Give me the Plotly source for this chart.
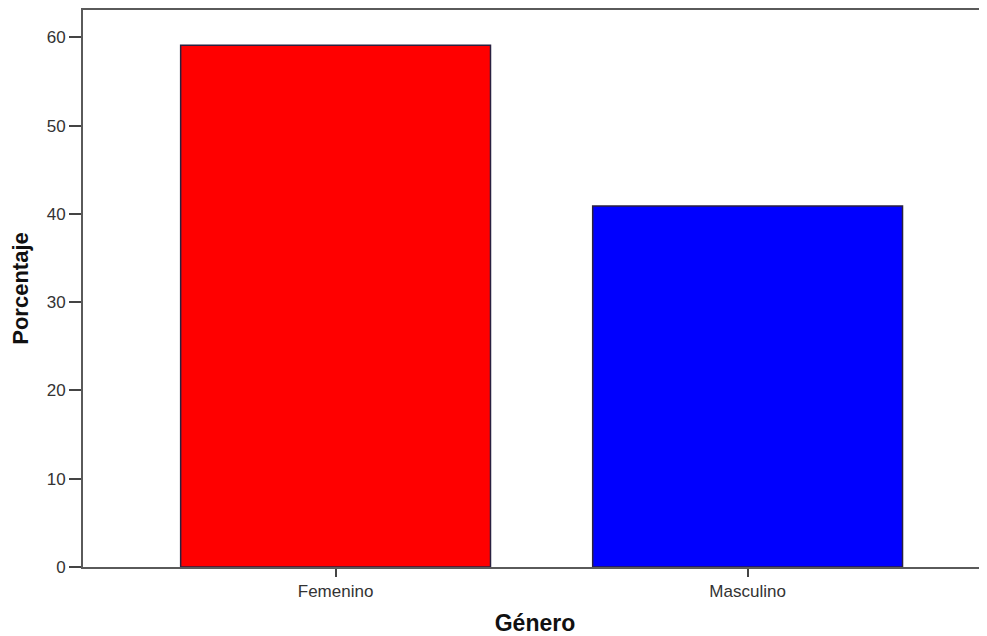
import plotly.graph_objects as go

categories = ["Femenino", "Masculino"]
values = [59.1, 40.9]
colors = ["#ff0000", "#0000ff"]
y_ticks = [0, 10, 20, 30, 40, 50, 60]

fig = go.Figure()
fig.add_trace(go.Bar(
    x=[0, 1], y=values, width=0.752,
    marker=dict(color=colors, line=dict(color="#2a2140", width=1.5)),
    hoverinfo="skip",
))

fig.update_layout(
    width=979, height=628,
    margin=dict(l=75, r=0, t=2, b=69),
    plot_bgcolor="white", paper_bgcolor="white",
    showlegend=False,
    font=dict(family="Liberation Sans, Arial, sans-serif", color="#333333", size=16),
    xaxis=dict(
        range=[-0.613, 1.581], tickmode="array", tickvals=[0, 1], ticktext=categories,
        showline=True, linecolor="#5a5a5a", linewidth=2, mirror=True,
        ticks="outside", ticklen=8, tickwidth=2, tickcolor="#444444",
        showgrid=False, zeroline=False,
        tickfont=dict(size=17),
        title=dict(text="<b>Género</b>", font=dict(size=23, color="#111111"), standoff=14),
    ),
    yaxis=dict(
        range=[0, 63.1], tickmode="array", tickvals=y_ticks,
        showline=True, linecolor="#5a5a5a", linewidth=2, mirror=False,
        ticks="outside", ticklen=12, tickwidth=2, tickcolor="#444444",
        showgrid=False, zeroline=False,
        tickfont=dict(size=17),
        title=dict(text="<b>Porcentaje</b>", font=dict(size=22, color="#111111"), standoff=12),
    ),
)

fig.write_html("out.html")
